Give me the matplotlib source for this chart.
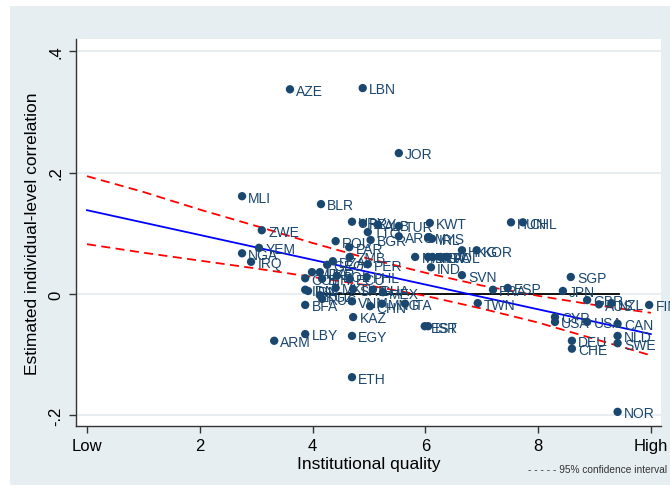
import matplotlib.pyplot as plt
import matplotlib.patches as mpatches

plt.rcParams['font.family'] = ['Liberation Sans', 'DejaVu Sans']

# country codes, institutional quality (0 = low, 10 = high), estimated correlation
codes = [
    "AZE", "LBN", "JOR", "MLI", "BLR", "ZWE", "YEM", "NGA", "IRQ",
    "URY", "PRY", "TTO", "ALB", "TUR", "ARG", "KWT", "ROU", "PAR", "BGR",
    "ZMB", "PER", "DZA", "GEO", "MDA", "UKR", "COL", "BIH", "BOL", "ECU", "PHL",
    "IDN", "IRN", "KGZ", "MKD", "SRB", "GHA", "MEX",
    "BFA", "RUS", "VNM", "CHN", "MNG", "ITA", "KAZ",
    "MAR", "BRA", "HRV", "LVA", "POL", "MYS", "IRL", "IND", "SVN", "HKG", "KOR",
    "HUN", "CHL", "EST", "ISR", "LBY", "ARM", "EGY", "ETH",
    "FRA", "ESP", "TWN", "SGP", "JPN", "GBR", "AUS", "NZL", "FIN",
    "CYP", "USA", "USA", "CAN", "NLD", "SWE", "DEU", "CHE", "NOR",
]
inst_quality = [
    3.60, 4.89, 5.53, 2.75, 4.15, 3.10, 3.05, 2.75, 2.91,
    4.70, 4.89, 4.98, 5.16, 5.53, 5.53, 6.08, 4.41, 4.65, 5.03,
    4.66, 4.98, 4.36, 4.26, 3.99, 4.13, 3.87, 4.17, 4.43, 4.66, 4.96,
    3.87, 3.92, 4.13, 4.41, 4.72, 5.07, 5.25,
    3.87, 4.17, 4.70, 5.02, 5.23, 5.64, 4.72,
    5.82, 6.05, 6.13, 6.27, 6.38, 6.05, 6.12, 6.10, 6.65, 6.65, 6.91,
    7.52, 7.73, 5.99, 6.05, 3.87, 3.32, 4.70, 4.70,
    7.20, 7.46, 6.93, 8.58, 8.44, 8.87, 9.08, 9.30, 9.97,
    8.30, 8.30, 8.87, 9.41, 9.41, 9.41, 8.60, 8.60, 9.41,
]
correlation = [
    0.337, 0.339, 0.232, 0.161, 0.148, 0.105, 0.076, 0.067, 0.053,
    0.119, 0.117, 0.102, 0.114, 0.112, 0.095, 0.117, 0.087, 0.077, 0.089,
    0.061, 0.049, 0.054, 0.048, 0.036, 0.036, 0.026, 0.025, 0.030, 0.025, 0.028,
    0.007, 0.005, -0.002, 0.010, 0.008, 0.007, 0.003,
    -0.018, -0.008, -0.012, -0.020, -0.016, -0.016, -0.038,
    0.061, 0.061, 0.061, 0.061, 0.061, 0.093, 0.091, 0.044, 0.031, 0.072, 0.072,
    0.118, 0.118, -0.053, -0.053, -0.066, -0.077, -0.069, -0.137,
    0.007, 0.010, -0.015, 0.028, 0.005, -0.010, -0.017, -0.015, -0.018,
    -0.038, -0.046, -0.046, -0.049, -0.069, -0.081, -0.077, -0.090, -0.194,
]

# fitted line and 95% band
fit_x = [0, 10]
fit_y = [0.138, -0.066]
ci_x = [0, 1, 2, 3, 4, 5, 6, 7, 8, 9, 10]
ci_upper = [0.194, 0.168, 0.139, 0.112, 0.084, 0.058, 0.035, 0.014, -0.003, -0.018, -0.031]
ci_lower = [0.082, 0.068, 0.055, 0.042, 0.028, 0.014, -0.003, -0.024, -0.047, -0.074, -0.101]
zero_x = [4.2, 9.43]

x_ticks = [0, 2, 4, 6, 8, 10]
x_ticklabels = ["Low", "2", "4", "6", "8", "High"]
y_ticks = [-0.2, 0, 0.2, 0.4]
y_ticklabels = ["-.2", "0", ".2", ".4"]

navy = "#1a476f"
region = "#e7eef2"

fig = plt.figure(figsize=(6.7, 4.89), dpi=100)
fig.patch.set_facecolor("white")
# graph region behind the plot area
fig.patches.append(mpatches.Rectangle((10 / 670, 1 - 486 / 489), 660 / 670, 479 / 489,
                                      transform=fig.transFigure, facecolor=region,
                                      edgecolor="none", zorder=-10))

ax = fig.add_axes([76 / 670, 1 - 427 / 489, 585 / 670, 387 / 489])
ax.set_zorder(1)
ax.set_facecolor("white")
ax.set_xlim(-0.195, 10.18)
ax.set_ylim(-0.2173, 0.4198)

ax.set_yticks(y_ticks)
ax.yaxis.grid(True, color="#e3ebf0", lw=1.2)
ax.set_axisbelow(True)

ax.plot(zero_x, [0, 0], color="black", lw=1.3, zorder=2)
ax.plot(fit_x, fit_y, color="#0000ff", lw=1.3, zorder=3)
ax.plot(ci_x, ci_upper, color="#ff0000", lw=1.3, ls=(0, (5, 3)), zorder=3)
ax.plot(ci_x, ci_lower, color="#ff0000", lw=1.3, ls=(0, (5, 3)), zorder=3)

ax.scatter(inst_quality, correlation, s=36, color=navy, edgecolor="none", zorder=4)
for code, xv, yv in zip(codes, inst_quality, correlation):
    ax.annotate(code, (xv, yv), xytext=(4.5, -1), textcoords="offset points",
                ha="left", va="center", fontsize=10, color=navy, zorder=5,
                annotation_clip=False)

ax.set_xticks(x_ticks)
ax.set_xticklabels(x_ticklabels, fontsize=12)
ax.set_yticklabels(y_ticklabels, fontsize=12, rotation=90, va="center")
ax.tick_params(direction="out", length=5, width=1, color="#333333", pad=4)
for side in ["top", "right"]:
    ax.spines[side].set_visible(False)
for side in ["left", "bottom"]:
    ax.spines[side].set_color("#333333")
    ax.spines[side].set_linewidth(1)

ax.set_xlabel("Institutional quality", fontsize=12.5, labelpad=2)
ax.set_ylabel("Estimated individual-level correlation", fontsize=12.5, labelpad=6)

fig.text(528 / 670, 1 - 470 / 489, "- - - - - 95% confidence interval",
         fontsize=7.3, color="#333333", va="center", ha="left")

fig.savefig("out.png", dpi=100)
